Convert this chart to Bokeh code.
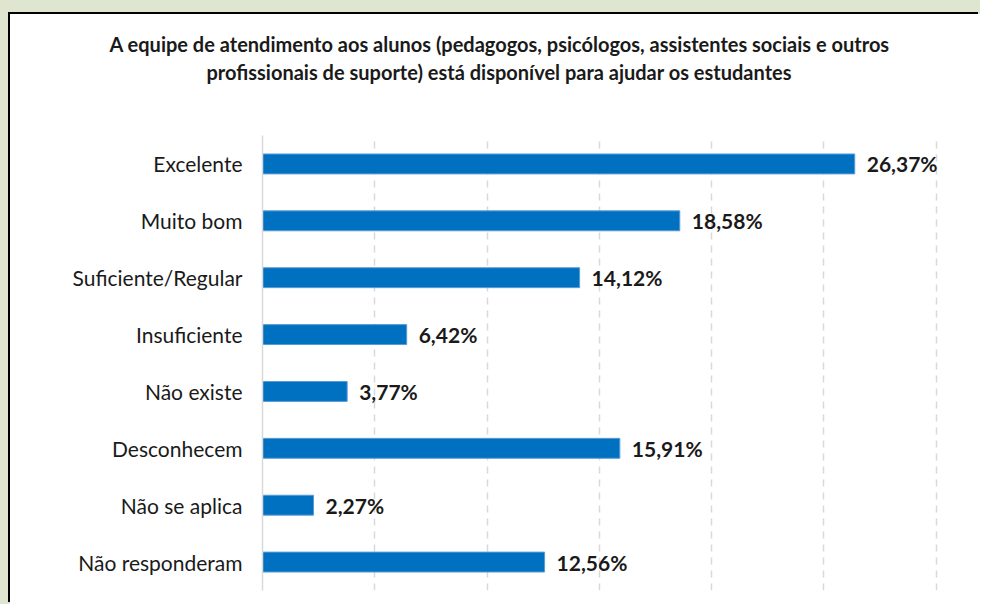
from bokeh.plotting import figure
from bokeh.models import ColumnDataSource, FactorRange, FixedTicker, Title
from bokeh.core.properties import value
from bokeh.embed import file_html
from bokeh.resources import INLINE

categories = ["Excelente", "Muito bom", "Suficiente/Regular", "Insuficiente",
              "Não existe", "Desconhecem", "Não se aplica", "Não responderam"]
percentages = [26.37, 18.58, 14.12, 6.42, 3.77, 15.91, 2.27, 12.56]
x_ticks = [0, 5, 10, 15, 20, 25, 30]
title_lines = ["A equipe de atendimento aos alunos (pedagogos, psicólogos, assistentes sociais e outros",
               "profissionais de suporte) está disponível para ajudar os estudantes"]

labels = [f"{v:.2f}".replace(".", ",") + "%" for v in percentages]
src = ColumnDataSource(dict(cat=categories, val=percentages, lab=labels))

p = figure(width=970, height=590, output_backend="svg", toolbar_location=None,
           y_range=FactorRange(*reversed(categories), range_padding=0),
           x_range=(0, 30.1),
           min_border_left=252, min_border_right=42, min_border_top=121, min_border_bottom=14)

p.styles = {"margin-left": "10px", "margin-top": "14px",
            "border": "none", "outline": "none",
            "box-shadow": "-2px -2px 0px 0px #000000, -10px -10px 0px 10px #dfe6cf"}

spacer = Title(text=" ", text_font_size="10px", standoff=38)
t2 = Title(text=title_lines[1], align="left", offset=-56,
           text_font="Lato", text_font_size="20px", text_font_style="bold",
           text_color="#1a1a1a", standoff=2)
t1 = Title(text=title_lines[0], align="left", offset=-153,
           text_font="Lato", text_font_size="20px", text_font_style="bold",
           text_color="#1a1a1a", standoff=2)
p.add_layout(spacer, "above")
p.add_layout(t2, "above")
p.add_layout(t1, "above")

p.hbar(y="cat", right="val", left=0, height=0.35, source=src,
       fill_color="#0070C0", line_color="#5B9BD5", line_width=1)

p.text(x="val", y="cat", text="lab", source=src, x_offset=12,
       text_font=value("Lato"), text_font_size="21px", text_font_style="bold",
       text_color="#1a1a1a", text_baseline="middle", text_align="left")

p.xaxis.visible = False
p.xgrid.ticker = FixedTicker(ticks=x_ticks)
p.xgrid.grid_line_color = "#d9d9d9"
p.xgrid.grid_line_dash = "7 6"
p.xgrid.grid_line_width = 1.5
p.ygrid.visible = False

p.yaxis.axis_line_color = "#d9d9d9"
p.yaxis.axis_line_width = 1.5
p.yaxis.major_tick_line_color = None
p.yaxis.minor_tick_line_color = None
p.yaxis.major_tick_out = 0
p.yaxis.major_tick_in = 0
p.yaxis.major_label_text_font = "Lato"
p.yaxis.major_label_text_font_size = "21px"
p.yaxis.major_label_text_color = "#1a1a1a"
p.yaxis.major_label_standoff = 20

p.outline_line_color = None
p.background_fill_color = "#ffffff"
p.border_fill_color = "#ffffff"

open("out.html", "w").write(file_html(p, INLINE))
